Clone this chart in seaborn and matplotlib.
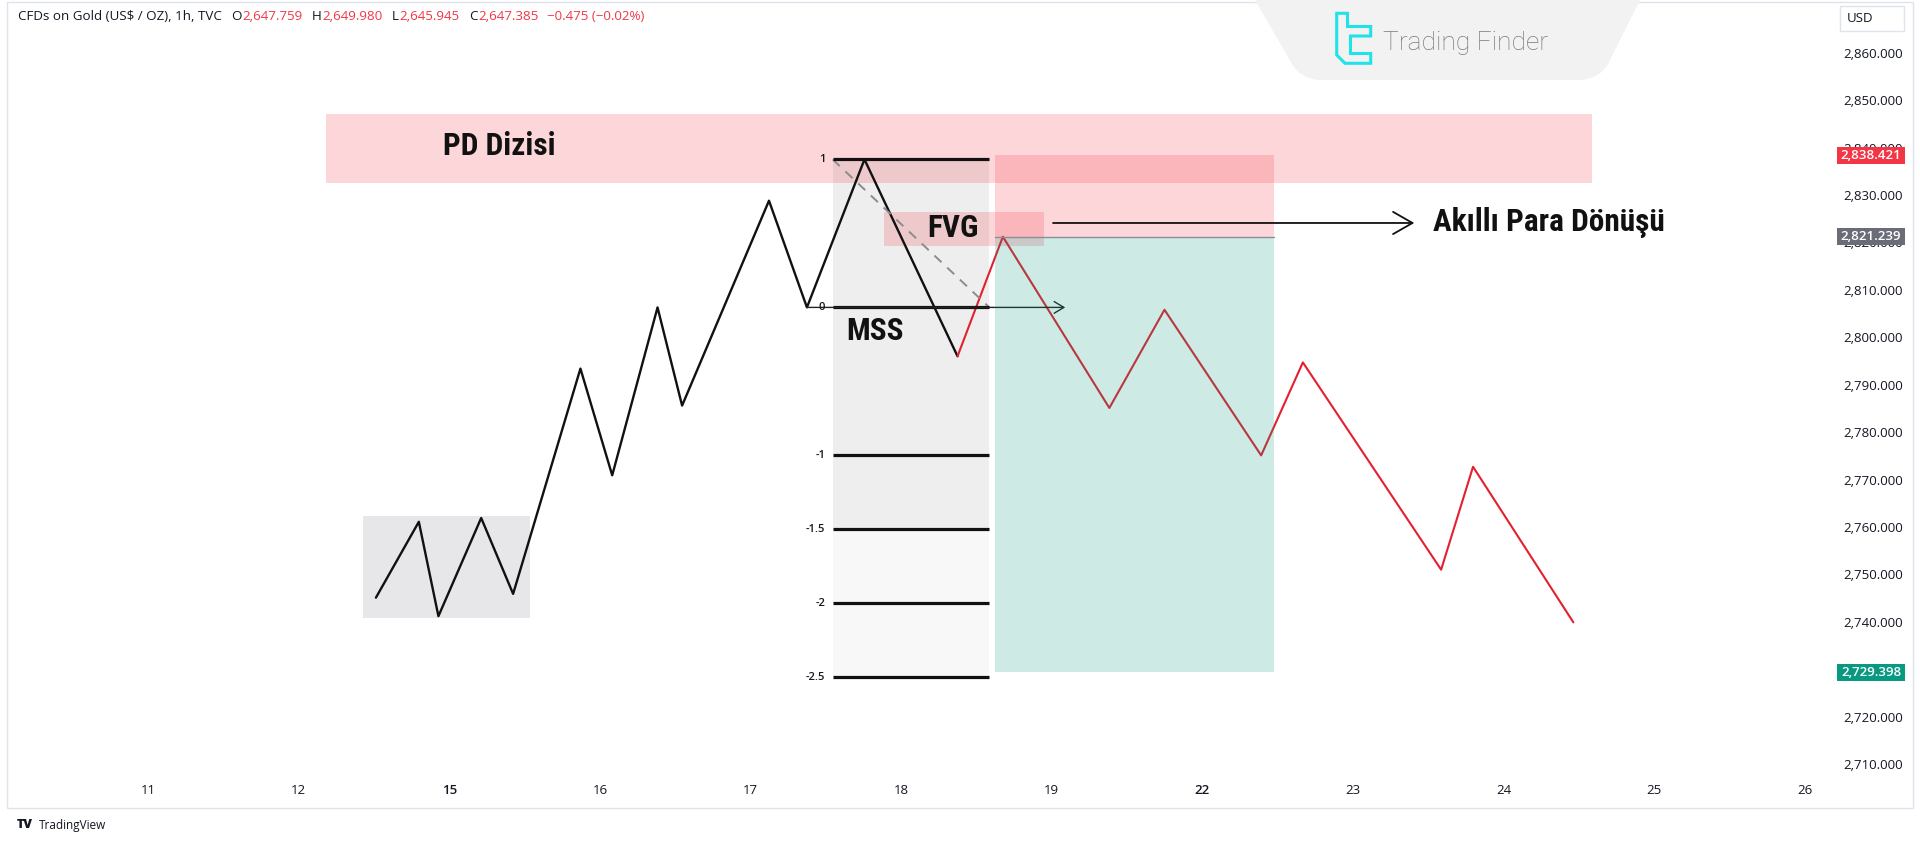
import matplotlib
matplotlib.use('Agg')
import matplotlib.pyplot as plt
import seaborn as sns
import pandas as pd
from matplotlib import font_manager
from matplotlib.patches import Rectangle, PathPatch, Polygon
from matplotlib.path import Path
from matplotlib.transforms import blended_transform_factory

# ---------------- data ----------------
day_labels = ['11', '12', '15', '16', '17', '18', '19', '22', '23', '24', '25', '26']
bold_days = ['15', '22']
price_ticks = [2710, 2720, 2730, 2740, 2750, 2760, 2770, 2780, 2790, 2800,
               2810, 2820, 2830, 2840, 2850, 2860]

# bullish leg (black zigzag), x = trading-day index
bull_x = [1.512, 1.797, 1.927, 2.211, 2.423, 2.870, 3.081, 3.382, 3.545, 4.122, 4.374, 4.756, 5.374]
bull_p = [2745.1, 2761.1, 2741.2, 2761.9, 2745.9, 2793.4, 2770.9, 2806.3, 2785.6, 2828.8, 2806.3, 2837.5, 2796.0]
# bearish leg (red zigzag)
bear_x = [5.374, 5.675, 6.382, 6.748, 7.390, 7.667, 8.585, 8.797, 9.463]
bear_p = [2796.0, 2821.2, 2785.1, 2805.8, 2775.1, 2794.7, 2751.0, 2772.7, 2739.9]

# consolidation box
range_x = [1.428, 2.535]
range_p = [2740.8, 2762.3]
# PD array zone
pd_x = [1.179, 9.586]
pd_p = [2832.6, 2847.1]
# FVG zone
fvg_x = [4.886, 5.951]
fvg_p = [2819.2, 2826.4]
# fib tool
fib_x = [4.545, 5.585]
fib_high = 2837.5
fib_low = 2806.3
fib_levels = [1, 0, -1, -1.5, -2, -2.5]
fib_labels = ['1', '0', '-1', '-1.5', '-2', '-2.5']
# short position tool
pos_x = [5.626, 7.472]
stop_price = 2838.421
entry_price = 2821.239
target_price = 2729.398
# arrows
mss_arrow_x = [4.374, 6.089]
fvg_arrow_x = [6.008, 8.407]
fvg_arrow_p = 2824.1
# labels
pd_label = ('PD Dizisi', 1.959, 2840.4)
fvg_label = ('FVG', 5.171, 2823.1)
mss_label = ('MSS', 4.634, 2801.4)
smr_label = ('Akıllı Para Dönüşü', 8.528, 2824.1)

header_pieces = [
    ('CFDs on Gold (US$ / OZ), 1h, TVC', 'dark', 9),
    ('O', 'dark', 1), ('2,647.759', 'red', 9),
    ('H', 'dark', 1), ('2,649.980', 'red', 9),
    ('L', 'dark', 1), ('2,645.945', 'red', 9),
    ('C', 'dark', 1), ('2,647.385', 'red', 8),
    ('\u22120.475 (\u22120.02%)', 'red', 0),
]

# ---------------- style ----------------
sns.set_theme(style='white')
available = {f.name for f in font_manager.fontManager.ttflist}


def pick(*names):
    for n in names:
        if n in available:
            return n
    return 'DejaVu Sans'


UI = pick('Open Sans', 'Lato', 'Noto Sans')
COND = pick('Liberation Sans Narrow', 'Roboto Condensed', 'Open Sans Condensed')
LOGO = pick('Roboto', 'Lato', 'Open Sans')
plt.rcParams['font.family'] = [UI, 'DejaVu Sans']
cond_kw = dict(family=[COND, 'DejaVu Sans'], fontweight='bold')
if COND == 'DejaVu Sans':
    cond_kw['fontstretch'] = 'condensed'

DARK = '#131722'
RED = '#F23645'
LINE_RED = '#E3202F'
TEAL = '#089981'

W, H = 1920, 842
fig = plt.figure(figsize=(W / 100, H / 100), dpi=100)
fig.patch.set_facecolor('white')


def fx(px):
    return px / W


def fy(py):
    return 1 - py / H


ax_l, ax_r, ax_t, ax_b = 10, 1822, 4, 778
ax = fig.add_axes([fx(ax_l), fy(ax_b), (ax_r - ax_l) / W, (ax_b - ax_t) / H])
ax.set_facecolor('none')

# zigzag lines
bull = pd.DataFrame({'x': bull_x, 'price': bull_p})
bear = pd.DataFrame({'x': bear_x, 'price': bear_p})
sns.lineplot(data=bull, x='x', y='price', sort=False, estimator=None,
             color='#111111', lw=1.7, ax=ax, zorder=3)
sns.lineplot(data=bear, x='x', y='price', sort=False, estimator=None,
             color=LINE_RED, lw=1.5, ax=ax, zorder=3)

ax.set_xlim(-0.9177, 11.114)
ax.set_ylim(2707.08, 2870.27)
px_per_unit = (ax_b - ax_t) / (2870.27 - 2707.08)

# consolidation range
ax.add_patch(Rectangle((range_x[0], range_p[0]), range_x[1] - range_x[0], range_p[1] - range_p[0],
                       facecolor='#E7E7E9', edgecolor='none', zorder=1))
# PD array
ax.add_patch(Rectangle((pd_x[0], pd_p[0]), pd_x[1] - pd_x[0], pd_p[1] - pd_p[0],
                       facecolor=(242 / 255, 54 / 255, 69 / 255, 0.2), edgecolor='none', zorder=1.5))

# fib background
fib_prices = [fib_low + l * (fib_high - fib_low) for l in fib_levels]
ax.add_patch(Rectangle((fib_x[0], fib_prices[3]), fib_x[1] - fib_x[0], fib_prices[0] - fib_prices[3],
                       facecolor='#EEEEEE', edgecolor='none', zorder=1))
ax.add_patch(Rectangle((fib_x[0], fib_prices[5]), fib_x[1] - fib_x[0], fib_prices[3] - fib_prices[5],
                       facecolor='#F8F8F8', edgecolor='none', zorder=1))
for lvl_p, lab in zip(fib_prices, fib_labels):
    ax.plot(fib_x, [lvl_p, lvl_p], color='#111111', lw=2.3, zorder=3.2, solid_capstyle='butt')
    ax.text(fib_x[0] - 0.05, lvl_p, lab, ha='right', va='center', fontsize=8,
            color=DARK, fontweight='semibold', zorder=5)
ax.plot(fib_x, [fib_high, fib_low], color='#8C8C8C', lw=1.4, ls=(0, (5, 4)), zorder=3.1)

# FVG zone
ax.add_patch(Rectangle((fvg_x[0], fvg_p[0]), fvg_x[1] - fvg_x[0], fvg_p[1] - fvg_p[0],
                       facecolor=(242 / 255, 54 / 255, 69 / 255, 0.2), edgecolor='none', zorder=2))

# short position tool
ax.add_patch(Rectangle((pos_x[0], entry_price), pos_x[1] - pos_x[0], stop_price - entry_price,
                       facecolor=(242 / 255, 54 / 255, 69 / 255, 0.2), edgecolor='none', zorder=4))
ax.add_patch(Rectangle((pos_x[0], target_price), pos_x[1] - pos_x[0], entry_price - target_price,
                       facecolor=(8 / 255, 153 / 255, 129 / 255, 0.2), edgecolor='none', zorder=4))
ax.plot(pos_x, [entry_price, entry_price], color='#8A8E99', lw=1.0, zorder=4.1)

# arrows
ax.annotate('', xy=(mss_arrow_x[1], fib_low), xytext=(mss_arrow_x[0], fib_low),
            arrowprops=dict(arrowstyle='->,head_length=0.5,head_width=0.3', color='#222222',
                            lw=1.0, shrinkA=0, shrinkB=0, mutation_scale=14), zorder=3.3)
ax.annotate('', xy=(fvg_arrow_x[1], fvg_arrow_p), xytext=(fvg_arrow_x[0], fvg_arrow_p),
            arrowprops=dict(arrowstyle='->,head_length=0.7,head_width=0.4', color='#111111',
                            lw=1.3, shrinkA=0, shrinkB=0, mutation_scale=20), zorder=5)

# labels
for txt, lx, lp in [pd_label, fvg_label, mss_label, smr_label]:
    ax.text(lx, lp, txt, ha='left', va='center', fontsize=22.5, color='#111111', zorder=6, **cond_kw)

# axes ticks
sns.despine(ax=ax, left=True, bottom=True, right=True, top=True)
ax.set_xlabel('')
ax.set_ylabel('')
ax.grid(False)
ax.yaxis.tick_right()
ax.set_yticks(price_ticks)
ax.set_yticklabels([f'{v:,.3f}' for v in price_ticks])
ax.tick_params(axis='y', length=0, pad=15, labelsize=9.5, labelcolor=DARK)
ax.set_xticks(range(len(day_labels)))
ax.set_xticklabels(day_labels)
ax.tick_params(axis='x', length=0, pad=4, labelsize=9.5, labelcolor=DARK)
for t in ax.get_xticklabels():
    if t.get_text() in bold_days:
        t.set_fontweight('semibold')

# price badges
btr = blended_transform_factory(fig.transFigure, ax.transData)
badge_h = 17 / px_per_unit
for val, col in [(stop_price, RED), (entry_price, '#6A6D78'), (target_price, TEAL)]:
    ax.add_patch(Rectangle((fx(1837), val - badge_h / 2), fx(1905) - fx(1837), badge_h,
                           transform=btr, facecolor=col, edgecolor='none', clip_on=False, zorder=7))
    ax.text(fx(1871), val, f'{val:,.3f}', transform=btr, ha='center', va='center',
            fontsize=9.5, color='white', fontweight='semibold', clip_on=False, zorder=8)

# frame
fig.patches.append(Rectangle((fx(7), fy(808)), fx(1913) - fx(7), fy(2) - fy(808), transform=fig.transFigure,
                             facecolor='none', edgecolor='#E0E3EB', lw=1.0, zorder=0))

# header
renderer = fig.canvas.get_renderer()
hx = 18
for txt, kind, gap in header_pieces:
    t = fig.text(fx(hx), fy(17), txt, color=(DARK if kind == 'dark' else RED), fontsize=9.6,
                 ha='left', va='center')
    hx += t.get_window_extent(renderer).width + gap

# USD box
fig.patches.append(Rectangle((fx(1840), fy(31)), fx(1904) - fx(1840), fy(6) - fy(31),
                             transform=fig.transFigure, facecolor='white', edgecolor='#E0E3EB', lw=1.0))
fig.text(fx(1860), fy(18), 'USD', ha='center', va='center', fontsize=9.5, color=DARK)

# watermark trapezoid
verts = [(1255, 0), (1292, 64), (1300, 78), (1318, 80), (1582, 80), (1600, 78), (1608, 64), (1640, 0), (1255, 0)]
codes = [Path.MOVETO, Path.LINETO, Path.CURVE3, Path.CURVE3, Path.LINETO, Path.CURVE3, Path.CURVE3,
         Path.LINETO, Path.CLOSEPOLY]
fig.patches.append(PathPatch(Path([(fx(a), fy(b)) for a, b in verts], codes), transform=fig.transFigure,
                             facecolor='#F2F2F2', edgecolor='none', zorder=0.5))
icon = [(1336.7, 13.3), (1347.5, 13.3), (1347.5, 26.5), (1370.7, 26.5), (1370.7, 36), (1350.5, 36),
        (1350.5, 53.5), (1370.7, 53.5), (1370.7, 63.3), (1345, 63.3), (1336.7, 55)]
fig.patches.append(Polygon([(fx(a), fy(b)) for a, b in icon], closed=True, transform=fig.transFigure,
                           facecolor='none', edgecolor='#1FE3E8', lw=2.2, zorder=1))
fig.text(fx(1383), fy(43), 'Trading Finder', ha='left', va='center', fontsize=19,
         color='#7B7B7B', family=LOGO, fontweight='light')

# TradingView logo
fig.text(fx(17), fy(825), 'TV', ha='left', va='center', fontsize=9, color=DARK, fontweight='heavy')
fig.text(fx(39), fy(825), 'TradingView', ha='left', va='center', fontsize=8.5, color=DARK)

fig.savefig('out.png', dpi=100, facecolor='white')
